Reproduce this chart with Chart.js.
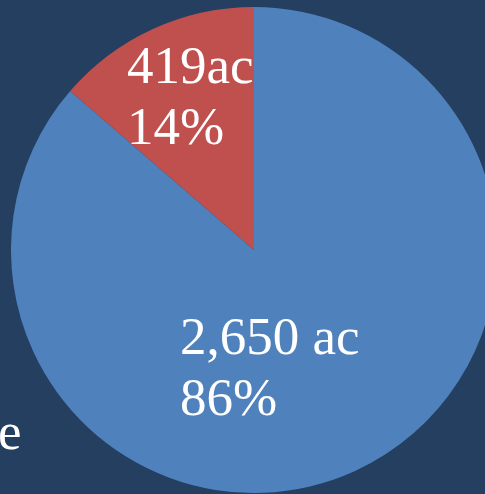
<!DOCTYPE html>
<html>
<head>
<meta charset="utf-8">
<script src="https://cdn.jsdelivr.net/npm/chart.js@4"></script>
<style>
  html, body { margin: 0; padding: 0; width: 485px; height: 494px; overflow: hidden; background: #243F60; }
  #wrap { position: absolute; left: 11px; top: 7px; width: 486px; height: 486px; }
  #side { position: absolute; left: -2px; top: 401px; color: #fff; font: 53px "Liberation Serif", "DejaVu Serif", serif; line-height: 60px; }
</style>
</head>
<body>
<div id="side">e</div>
<div id="wrap"><canvas id="myChart"></canvas></div>
<script>
// Slices, clockwise from 12 o'clock
const categories = ['Area A', 'Area B'];
const acres = [2650, 419];
const sliceLabels = [['2,650 ac', '86%'], ['419ac', '14%']];
const colors = ['#4F81BD', '#C0504D'];

// label offsets from the pie centre (left edge, first baseline)
const labelOffsets = [[-74, 104], [-127, -167]];

const sliceText = {
    id: 'sliceText',
    afterDatasetsDraw(chart) {
        const ctx = chart.ctx;
        const arcs = chart.getDatasetMeta(0).data;
        ctx.save();
        ctx.fillStyle = '#ffffff';
        ctx.font = '53px "Liberation Serif", "DejaVu Serif", serif';
        ctx.textAlign = 'left';
        ctx.textBaseline = 'alphabetic';
        arcs.forEach((arc, i) => {
            const x = arc.x + labelOffsets[i][0];
            let y = arc.y + labelOffsets[i][1];
            sliceLabels[i].forEach((line) => {
                ctx.fillText(line, x, y);
                y += 61;
            });
        });
        ctx.restore();
    }
};

new Chart(document.getElementById('myChart'), {
    type: 'pie',
    data: {
        labels: categories,
        datasets: [{
            data: acres,
            backgroundColor: colors,
            borderWidth: 0
        }]
    },
    options: {
        responsive: true,
        maintainAspectRatio: false,
        animation: false,
        layout: { padding: 0 },
        plugins: {
            legend: { display: false },
            tooltip: { enabled: false }
        }
    },
    plugins: [sliceText]
});
</script>
</body>
</html>
